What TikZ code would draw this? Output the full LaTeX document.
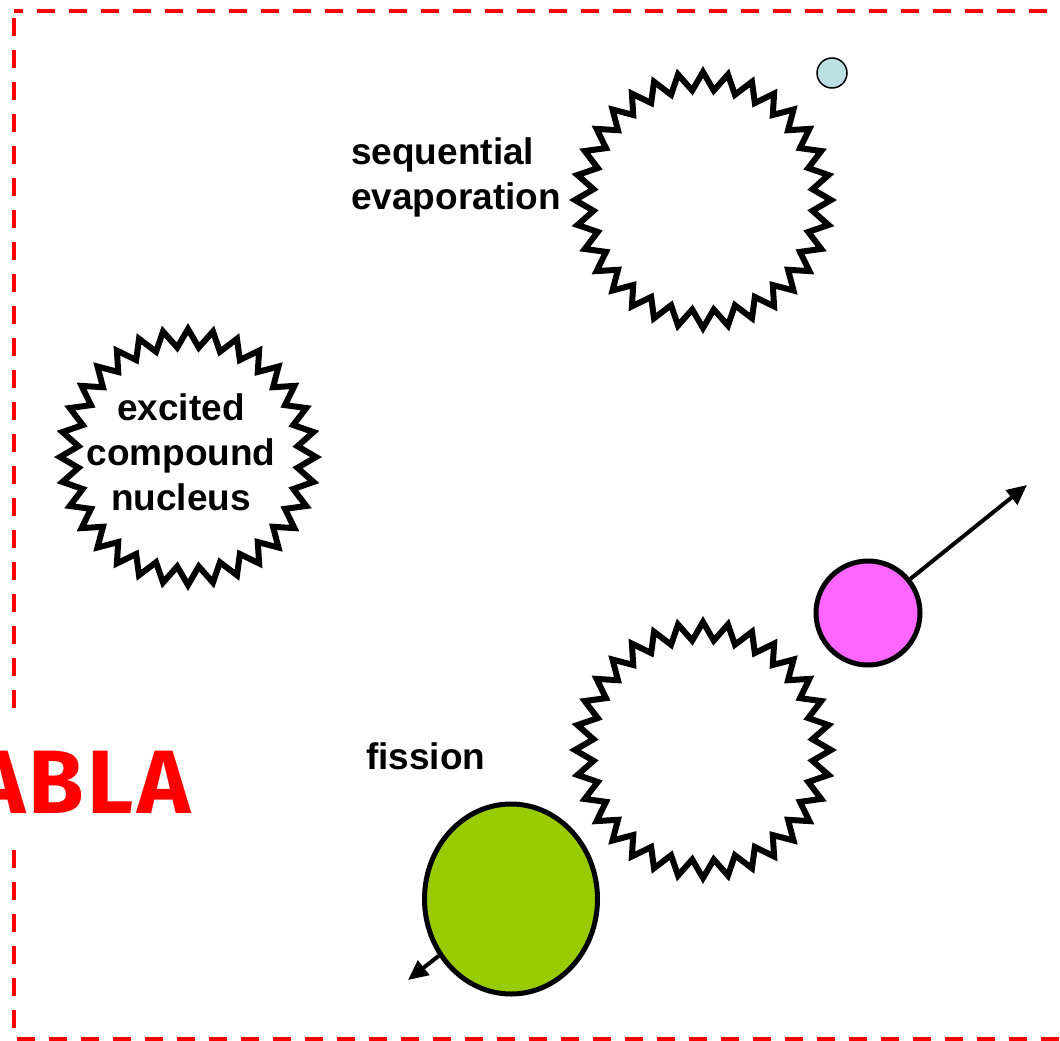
\documentclass[tikz,border=0pt]{standalone}
\usepackage{fontspec}
\setmainfont{Liberation Sans}
\newfontfamily\ablafont{Fira Sans}
\usetikzlibrary{shapes.geometric,arrows.meta,calc}
\definecolor{nucgreen}{HTML}{99CC00}
\definecolor{nucpink}{HTML}{FF66FF}
\definecolor{nucblue}{HTML}{BBE0E3}
\tikzset{
  frame/.style={draw=red, line width=4pt, dash pattern=on 18pt off 14pt, dash phase=9pt},
  ablabox/.style={font=\ablafont\bfseries\fontsize{90}{90}\selectfont, text=red, fill=white,
    inner sep=0pt, text height=98pt, text depth=30pt},
  txt/.style={font=\bfseries\fontsize{37}{45}\selectfont, text=black},
  burstline/.style={draw=black, line width=6pt, fill=white, miter limit=10},
  ball/.style={circle, draw=black, line width=5pt, inner sep=0pt},
  shot/.style={draw=black, line width=4pt, -{Triangle[length=20pt,width=18pt]}},
}
% 32-point zigzag outline around a named centre
\newcommand\burstat[1]{%
  \draw[burstline] ($(#1)+(0:128)$)
    \foreach \k in {1,...,63} { -- ($(#1)+({\k*5.625}:{128-18*mod(\k,2)})$) } -- cycle;
}
\begin{document}
\begin{tikzpicture}[x=1pt,y=-1pt]
\clip (0,0) rectangle (1060,1041);

% dashed frame, running off the right edge
\draw[frame] (14,11) -- (1090,11) -- (1090,1039) -- (14,1039) -- cycle;
\node[ablabox, anchor=base east] (abla) at (191,813) {\addfontfeature{LetterSpace=4}ABLA};

% excited compound nucleus
\coordinate (cn) at (188,457);
\burstat{cn}
\node[txt, align=center] (cntext) at (181,452) {excited\\compound\\nucleus};

% sequential evaporation
\coordinate (evap) at (703,200);
\burstat{evap}
\node[txt, align=left, anchor=north west, inner sep=0pt] (evaplabel) at (351,137) {sequential\\evaporation};
\node[ball, fill=nucblue, line width=1.5pt, minimum size=30pt] (neutron) at (832,73) {};

% fission
\coordinate (fiss) at (703,750);
\burstat{fiss}
\node[txt, anchor=base west, inner sep=0pt] (fisslabel) at (366,769) {fission};

\node[ball, fill=nucpink, minimum size=104pt] (pink) at (868,613) {};
\node[ellipse, draw=black, line width=5pt, fill=nucgreen, minimum width=173pt,
      minimum height=190pt, inner sep=0pt] (green) at (511,899) {};
\coordinate (pinktip) at (1027,485);
\coordinate (greentip) at (408,980);
\draw[shot] (pink) -- (pinktip);
\draw[shot] (green) -- (greentip);
\end{tikzpicture}
\end{document}
